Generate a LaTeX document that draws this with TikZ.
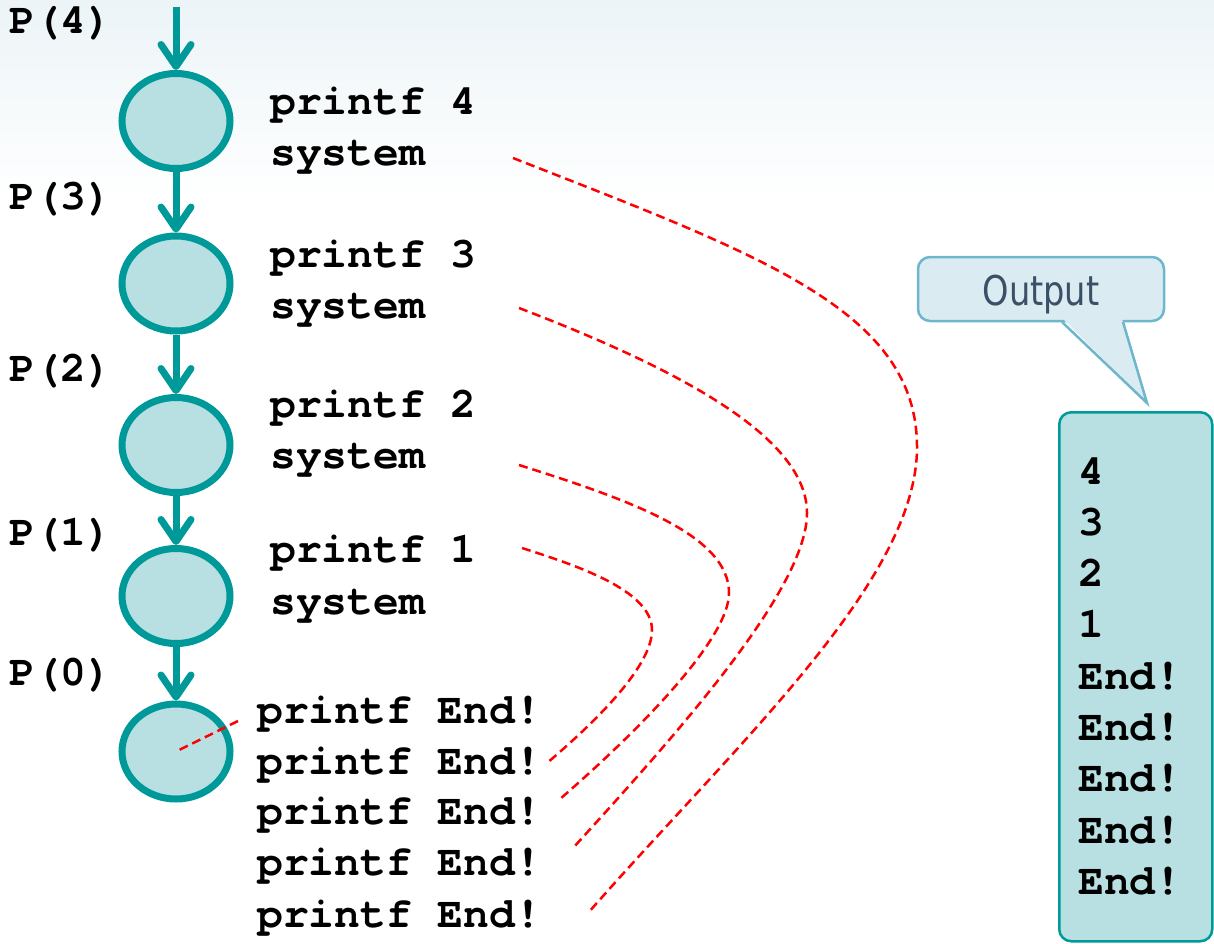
\documentclass[tikz,border=0pt]{standalone}
\usepackage{fontspec}
\setmonofont{TeX Gyre Cursor}
\newfontfamily\calloutfont[FakeStretch=0.82]{DejaVu Sans}
\usetikzlibrary{arrows.meta,shapes.geometric}
\definecolor{tealline}{RGB}{0,153,153}
\definecolor{procfill}{RGB}{184,223,226}
\definecolor{callfill}{RGB}{218,235,241}
\definecolor{calldraw}{RGB}{109,182,204}
\definecolor{calltext}{RGB}{59,80,102}
\definecolor{bgtint}{RGB}{236,244,247}
\begin{document}
\begin{tikzpicture}[x=1pt,y=-1pt,
  proc/.style={ellipse, draw=tealline, fill=procfill, line width=7pt,
    minimum width=108pt, minimum height=95pt, inner sep=0pt},
  flow/.style={draw=tealline, line width=7pt,
    -{Straight Barb[length=22pt,width=30pt,round]}},
  code/.style={anchor=base west, inner sep=0pt,
    font=\ttfamily\bfseries\fontsize{43}{50}\selectfont},
  trace/.style={draw=red, line width=2.5pt, dash pattern=on 9pt off 5pt},
  outbox/.style={draw=tealline, fill=procfill, line width=2.5pt,
    rounded corners=12pt, minimum width=153pt, minimum height=529pt,
    inner sep=0pt, anchor=north west},
  callbox/.style={draw=calldraw, fill=callfill, line width=2.5pt,
    rounded corners=12pt, minimum width=246pt, minimum height=64pt,
    inner sep=0pt},
  calllabel/.style={anchor=base, inner sep=0pt, text=calltext,
    font=\calloutfont\fontsize{41}{42}\selectfont},
]
\useasboundingbox (0,0) rectangle (1214,943);
\shade[top color=bgtint, bottom color=white] (0,0) rectangle (1214,200);

% processes
\node[proc] (p4) at (176,121) {};
\node[proc] (p3) at (176,283.5) {};
\node[proc] (p2) at (176,445) {};
\node[proc] (p1) at (176,596) {};
\node[proc] (p0) at (176,751.5) {};
\coordinate (entry) at (176,7);
\draw[flow] (entry) -- (p4.north);
\draw[flow] (p4.south) -- (p3.north);
\draw[flow] (p3.south) -- (p2.north);
\draw[flow] (p2.south) -- (p1.north);
\draw[flow] (p1.south) -- (p0.north);

% P labels
\node[code] (l4) at (9,33) {P(4)};
\node[code] (l3) at (9,209) {P(3)};
\node[code] (l2) at (9,381) {P(2)};
\node[code] (l1) at (9,545) {P(1)};
\node[code] (l0) at (9,685) {P(0)};

% code texts
\node[code] (t4a) at (270,114) {printf 4};
\node[code] (t4b) at (270,165) {system};
\node[code] (t3a) at (270,267) {printf 3};
\node[code] (t3b) at (270,318) {system};
\node[code] (t2a) at (270,417) {printf 2};
\node[code] (t2b) at (270,468) {system};
\node[code] (t1a) at (270,562) {printf 1};
\node[code] (t1b) at (270,614) {system};
\node[code] (e1) at (257,723) {printf End!};
\node[code] (e2) at (257,774) {printf End!};
\node[code] (e3) at (257,824) {printf End!};
\node[code] (e4) at (257,875) {printf End!};
\node[code] (e5) at (257,927) {printf End!};

% red dashed traces
\coordinate (a0) at (238,721);
\coordinate (a1) at (522,548);
\coordinate (a2) at (519,465);
\coordinate (a3) at (519,308);
\coordinate (a4) at (513,158);
\coordinate (b1) at (547,763);
\coordinate (b2) at (560,799);
\coordinate (b3) at (573,848);
\coordinate (b4) at (588,913);
\draw[trace] (a0) -- (p0.center);
\draw[trace] (a1) .. controls (575,565) and (652,590) .. (652,630)
                  .. controls (652,665) and (600,718) .. (b1);
\draw[trace] (a2) .. controls (630,500) and (729,535) .. (729,593)
                  .. controls (729,640) and (635,734) .. (b2);
\draw[trace] (a3) .. controls (689,373) and (807,440) .. (807,513)
                  .. controls (807,590) and (673,738) .. (b3);
\draw[trace] (a4) .. controls (760,255) and (917,310) .. (917,447)
                  .. controls (917,580) and (740,740) .. (b4);

% output box
\node[outbox] (out) at (1058,411) {};
\foreach \t/\y in {4/484,3/535,2/586,1/637,End!/689,End!/740,End!/791,End!/843,End!/894}{
  \node[code] at (1078,\y) {\t};
}

% callout
\node[callbox] (call) at (1041,289) {};
\node[calllabel] (calltxt) at (1041,305) {Output};
\coordinate (tip) at (1147,403);
\fill[callfill] (1063,319) -- (1122,319) -- (tip) -- cycle;
\draw[calldraw, line width=2.5pt, line join=miter] (1062,322) -- (tip) -- (1123,322);
\end{tikzpicture}
\end{document}
